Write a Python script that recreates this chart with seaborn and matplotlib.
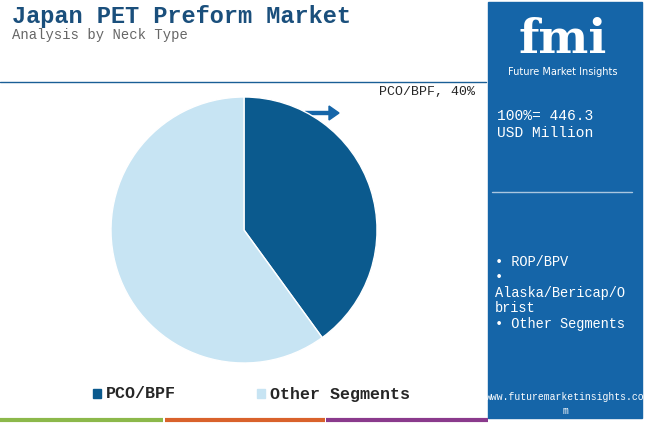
import matplotlib
matplotlib.use("Agg")
import matplotlib.pyplot as plt
import seaborn as sns
from matplotlib.patches import Rectangle, FancyArrow

labels = ["PCO/BPF", "Other Segments"]
values = [40, 60]
colors = ["#0b5a8e", "#c7e4f3"]
side_items = ["• ROP/BPV", "•", "Alaska/Bericap/O", "brist", "• Other Segments"]

sns.set_theme(style="white")
mono = "Liberation Mono"
fig = plt.figure(figsize=(6.5, 4.26), dpi=100)
W, H = 650, 426
bg = fig.add_axes([0, 0, 1, 1]); bg.set_xlim(0, W); bg.set_ylim(H, 0); bg.axis("off")

# right panel
bg.add_patch(Rectangle((488, 2), 154, 416, color="#1565a8"))
bg.text(563, 40, "fmi", color="white", fontsize=34, fontweight="bold", ha="center", va="center", family="DejaVu Serif")
bg.text(563, 72, "Future Market Insights", color="white", fontsize=7, ha="center", va="center")
bg.text(497, 116, "100%= 446.3", color="white", fontsize=10.5, family=mono, va="center")
bg.text(497, 133, "USD Million", color="white", fontsize=10.5, family=mono, va="center")
bg.plot([492, 632], [192, 192], color="#aac6e0", lw=1)
for i, t in enumerate(side_items):
    bg.text(495, 262 + i * 15.5, t, color="white", fontsize=9.8, family=mono, va="center")
bg.text(565, 397, "www.futuremarketinsights.co", color="white", fontsize=7, family=mono, ha="center", va="center")
bg.text(565, 411, "m", color="white", fontsize=7, family=mono, ha="center", va="center")

# title
bg.text(12, 16, "Japan PET Preform Market", color="#1a4f7c", fontsize=17, fontweight="bold", family=mono, va="center")
bg.text(12, 35, "Analysis by Neck Type", color="#666666", fontsize=10, family=mono, va="center")
bg.plot([0, 486], [82, 82], color="#1a5f96", lw=1)

# bottom lines
for x0, x1, c in [(0, 163, "#8cb84a"), (165, 325, "#d9622b"), (326, 488, "#8a3a8c")]:
    bg.plot([x0, x1], [420, 420], color=c, lw=3, solid_capstyle="butt")

# legend
bg.add_patch(Rectangle((93, 389), 8, 9, color=colors[0]))
bg.text(106, 394, labels[0], fontsize=12, fontweight="bold", family=mono, va="center")
bg.add_patch(Rectangle((257, 389), 8, 9, color=colors[1]))
bg.text(270, 394, labels[1], fontsize=12, fontweight="bold", family=mono, va="center")

# annotation
bg.text(475, 92, f"{labels[0]}, {values[0]}%", fontsize=9.5, family=mono, ha="right", va="center")
bg.add_patch(FancyArrow(305, 113, 24, 0, width=3, head_width=14, head_length=10, color="#1565a8"))

ax = fig.add_axes([(244 - 133) / W, 1 - (230 + 133) / H, 266 / W, 266 / H])
ax.pie(values, colors=colors, startangle=90, counterclock=False)
ax.set_xlim(-1, 1); ax.set_ylim(-1, 1)
ax.set_aspect("equal")
fig.savefig("out.png", dpi=100)
